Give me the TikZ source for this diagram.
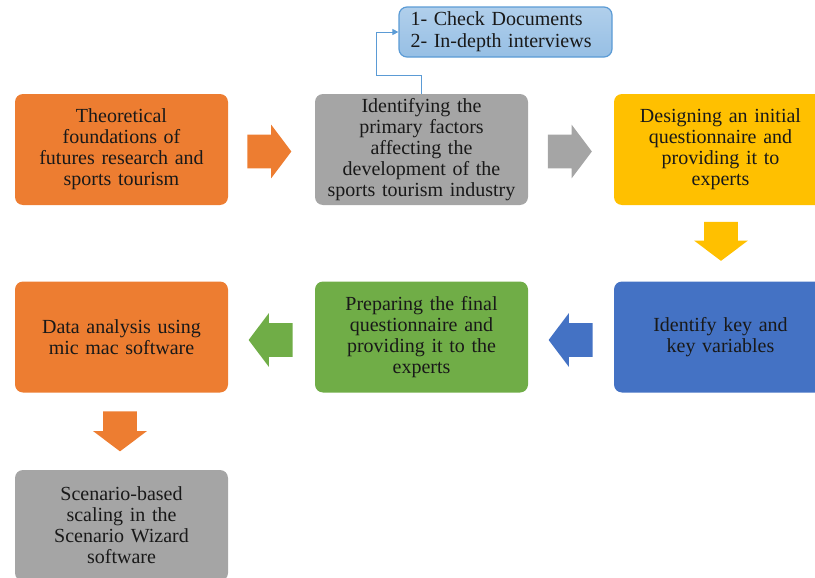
\documentclass[tikz,border=0pt]{standalone}
\usepackage{fontspec}
\setmainfont{Liberation Serif}
\usetikzlibrary{shapes.arrows, arrows.meta}
\definecolor{orng}{HTML}{ED7D31}
\definecolor{gry}{HTML}{A5A5A5}
\definecolor{ylw}{HTML}{FFC000}
\definecolor{blu}{HTML}{4472C4}
\definecolor{grn}{HTML}{70AD47}
\definecolor{lblu}{HTML}{9DC3E6}
\definecolor{lnk}{HTML}{5B9BD5}

\begin{document}
\begin{tikzpicture}[x=0.5pt, y=-0.5pt,
  box/.style={rounded corners=4pt, minimum width=106.5pt, minimum height=55.5pt, text width=104pt, align=center, inner sep=0pt, text=black!90, font=\fontsize{10}{10.5}\selectfont},
  blk/.style={single arrow, minimum height=22pt, inner xsep=0pt, inner ysep=8.25pt, single arrow head extend=5pt, single arrow tip angle=106},
  link/.style={draw=lnk, line width=0.5pt, -{Triangle[length=3pt, width=3pt]}}]
  \useasboundingbox (0,0) rectangle (815,578);

  \node[box, fill=orng] (b1) at (121.5,149.5) {Theoretical\\ foundations of\\ futures research and\\ sports tourism};
  \node[box, fill=gry] (b2) at (421.5,149.5) {Identifying the\\ primary factors\\ affecting the\\ development of the\\ sports tourism industry};
  \node[box, fill=ylw] (b3) at (720.5,149.5) {Designing an initial\\ questionnaire and\\ providing it to\\ experts};
  \node[box, fill=blu] (b4) at (720.5,337) {Identify key and\\ key variables};
  \node[box, fill=grn] (b5) at (421.5,337) {Preparing the final\\ questionnaire and\\ providing it to the\\ experts};
  \node[box, fill=orng] (b6) at (121.5,337) {Data analysis using\\ mic mac software};
  \node[box, fill=gry] (b7) at (121.5,525.5) {Scenario-based\\ scaling in the\\ Scenario Wizard\\ software};

  \node[box, minimum height=25pt, draw=lnk, line width=0.6pt, top color=lblu!80!white, bottom color=lblu!90!lnk, align=left, text width=95pt, font=\fontsize{10}{11}\selectfont] (tools) at (505.5,32) {1- Check Documents\\ 2- In-depth interviews};

  % block arrows
  \node[blk, fill=orng] (a12) at (263,151.5) {};
  \node[blk, fill=gry] (a23) at (563.5,151.5) {};
  \node[blk, fill=ylw, rotate=-90, minimum height=19.5pt] (a34) at (721,235) {};
  \node[blk, fill=blu, rotate=180] (a45) at (577,340) {};
  \node[blk, fill=grn, rotate=180] (a56) at (277,340) {};
  \node[blk, fill=orng, rotate=-90, minimum height=20pt] (a67) at (120,425) {};

  \coordinate (c1) at (376,75);
  \draw[link] (b2.north) -- (b2.north |- c1) -- (c1) |- (tools.west);
\end{tikzpicture}
\end{document}
